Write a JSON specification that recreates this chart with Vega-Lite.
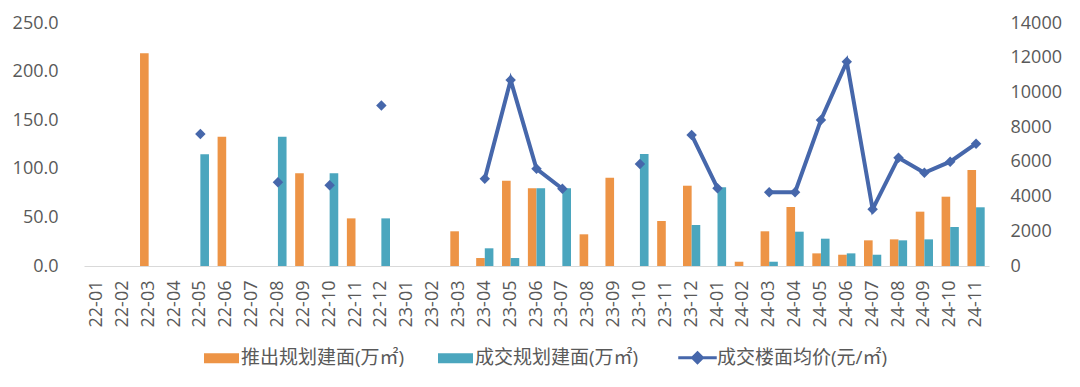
{
  "$schema": "https://vega.github.io/schema/vega-lite/v6.json",
  "autosize": {"type": "none"},
  "padding": {"left": 84, "top": 23, "right": 91, "bottom": 121},
  "width": 905,
  "height": 243,
  "background": "#ffffff",
  "config": {
    "view": {"stroke": null},
    "font": "Open Sans, Noto Sans CJK SC",
    "axis": {"labelFont": "Open Sans, Noto Sans CJK SC", "labelColor": "#595959", "grid": false, "ticks": false, "tickSize": 0, "title": null}
  },
  "data": {
    "values": [
      {"month": "22-01", "launch": null, "deal": null, "price": null},
      {"month": "22-02", "launch": null, "deal": null, "price": null},
      {"month": "22-03", "launch": 219, "deal": null, "price": null},
      {"month": "22-04", "launch": null, "deal": null, "price": null},
      {"month": "22-05", "launch": null, "deal": 115, "price": 7600},
      {"month": "22-06", "launch": 133, "deal": null, "price": null},
      {"month": "22-07", "launch": null, "deal": null, "price": null},
      {"month": "22-08", "launch": null, "deal": 133, "price": 4830},
      {"month": "22-09", "launch": 95.4, "deal": null, "price": null},
      {"month": "22-10", "launch": null, "deal": 95.4, "price": 4650},
      {"month": "22-11", "launch": 49, "deal": null, "price": null},
      {"month": "22-12", "launch": null, "deal": 49, "price": 9250},
      {"month": "23-01", "launch": null, "deal": null, "price": null},
      {"month": "23-02", "launch": null, "deal": null, "price": null},
      {"month": "23-03", "launch": 35.7, "deal": null, "price": null},
      {"month": "23-04", "launch": 8.2, "deal": 18.2, "price": 5030},
      {"month": "23-05", "launch": 87.8, "deal": 8.2, "price": 10710},
      {"month": "23-06", "launch": 80, "deal": 80, "price": 5600},
      {"month": "23-07", "launch": null, "deal": 80, "price": 4450},
      {"month": "23-08", "launch": 32.6, "deal": null, "price": null},
      {"month": "23-09", "launch": 90.9, "deal": null, "price": null},
      {"month": "23-10", "launch": null, "deal": 115.2, "price": 5870},
      {"month": "23-11", "launch": 46.3, "deal": null, "price": null},
      {"month": "23-12", "launch": 82.6, "deal": 42.2, "price": 7550},
      {"month": "24-01", "launch": null, "deal": 81, "price": 4480},
      {"month": "24-02", "launch": 4.4, "deal": null, "price": null},
      {"month": "24-03", "launch": 35.7, "deal": 4.4, "price": 4250},
      {"month": "24-04", "launch": 60.7, "deal": 35.3, "price": 4250},
      {"month": "24-05", "launch": 13, "deal": 28.1, "price": 8410},
      {"month": "24-06", "launch": 11.6, "deal": 13, "price": 11770},
      {"month": "24-07", "launch": 26.4, "deal": 11.6, "price": 3270},
      {"month": "24-08", "launch": 27.4, "deal": 26.4, "price": 6240},
      {"month": "24-09", "launch": 55.9, "deal": 27.4, "price": 5370},
      {"month": "24-10", "launch": 71.3, "deal": 40.1, "price": 6010},
      {"month": "24-11", "launch": 98.8, "deal": 60.4, "price": 7050}
    ]
  },
  "encoding": {
    "x": {
      "field": "month", "type": "ordinal",
      "scale": {
        "domain": ["22-01","22-02","22-03","22-04","22-05","22-06","22-07","22-08","22-09","22-10","22-11","22-12","23-01","23-02","23-03","23-04","23-05","23-06","23-07","23-08","23-09","23-10","23-11","23-12","24-01","24-02","24-03","24-04","24-05","24-06","24-07","24-08","24-09","24-10","24-11"],
        "paddingInner": 0, "paddingOuter": 0
      },
      "axis": {"labelAngle": -90, "labelFontSize": 18, "labelPadding": 14, "domainColor": "#d9d9d9", "domainWidth": 1.2}
    }
  },
  "layer": [
    {
      "transform": [{"fold": ["launch", "deal"], "as": ["series", "value"]}],
      "mark": {"type": "bar"},
      "encoding": {
        "xOffset": {"field": "series", "type": "nominal", "scale": {"domain": ["launch", "deal"], "paddingInner": 0, "paddingOuter": 0.5}},
        "y": {
          "field": "value", "type": "quantitative",
          "scale": {"domain": [0, 250], "nice": false},
          "axis": {"values": [0, 50, 100, 150, 200, 250], "format": ".1f", "labelFontSize": 18, "labelPadding": 26, "domain": false}
        },
        "color": {
          "field": "series", "type": "nominal",
          "scale": {"domain": ["launch", "deal", "price"], "range": ["#ED9446", "#4BA6BE", "#4667AB"]},
          "legend": {
            "orient": "none", "legendX": 128, "legendY": 325, "direction": "horizontal",
            "title": null, "padding": 0, "symbolSize": 1225, "labelOffset": 10, "columnPadding": 33,
            "labelFontSize": 19, "labelColor": "#595959", "labelFont": "Open Sans, Noto Sans CJK SC", "labelLimit": 0,
            "labelExpr": "datum.value === 'launch' ? '推出规划建面(万㎡)' : datum.value === 'deal' ? '成交规划建面(万㎡)' : '成交楼面均价(元/㎡)'",
            "encode": {
              "symbols": {
                "update": {
                  "shape": {"signal": "datum.value === 'price' ? 'M-1.1,0H1.1M0,-0.28L0.28,0L0,0.28L-0.28,0Z' : 'M-1,-0.29H1V0.29H-1Z'"},
                  "fill": {"scale": "color", "field": "value"},
                  "stroke": {"scale": "color", "field": "value"},
                  "strokeWidth": {"signal": "datum.value === 'price' ? 3 : 0"},
                  "size": {"value": 1225},
                  "opacity": {"value": 1},
                  "fillOpacity": {"value": 1}
                }
              }
            }
          }
        }
      }
    },
    {
      "encoding": {
        "y": {
          "field": "price", "type": "quantitative",
          "scale": {"domain": [0, 14000], "nice": false},
          "axis": {"orient": "right", "values": [0, 2000, 4000, 6000, 8000, 10000, 12000, 14000], "format": "d", "labelFontSize": 18, "labelPadding": 21, "domain": false}
        },
        "color": {"datum": "price"}
      },
      "layer": [
        {"mark": {"type": "line", "strokeWidth": 4, "invalid": "break-paths-filter-domains"}},
        {"mark": {"type": "point", "shape": "diamond", "filled": true, "size": 110, "opacity": 1}}
      ]
    }
  ],
  "resolve": {"scale": {"y": "independent"}}
}
